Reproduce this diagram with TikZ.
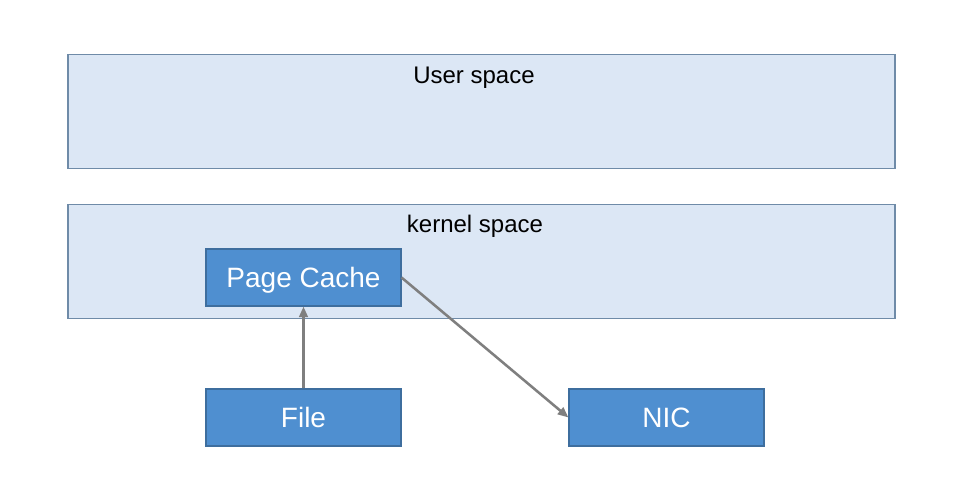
\documentclass[tikz,border=0pt]{standalone}
\usepackage{fontspec}
\setmainfont{Liberation Sans}
\usetikzlibrary{arrows.meta}
\definecolor{layerfill}{HTML}{DCE7F5}
\definecolor{layerline}{HTML}{6F8BA8}
\definecolor{blockfill}{HTML}{4F8FD0}
\definecolor{blockline}{HTML}{3E6E9E}
\definecolor{flow}{HTML}{7F7F7F}
\begin{document}
\begin{tikzpicture}[x=0.75pt,y=-0.75pt,
  layer/.style={draw=layerline,fill=layerfill,line width=0.9pt,
    minimum width=620.25pt,minimum height=85pt,inner sep=0pt},
  block/.style={draw=blockline,fill=blockfill,line width=0.8pt,text=white,
    minimum width=146.25pt,minimum height=42.75pt,inner sep=0pt,
    font=\fontsize{21}{24}\selectfont,text height=15pt,text depth=0pt},
  layerlabel/.style={inner sep=0pt,text=black,font=\fontsize{18}{21}\selectfont,
    text height=12.9pt,text depth=0pt},
  flowarrow/.style={draw=flow,line width=1.9pt,
    -{Triangle[length=8pt,width=6.5pt]}}]
  \useasboundingbox[fill=white] (0,0) rectangle (976,501);
  % address-space layers
  \node[layer] (user) at (481.5,111.5) {};
  \node[layer] (kernel) at (481.5,261.5) {};
  \node[layerlabel] (userlbl) at (474,75) {User space};
  \node[layerlabel] (kernellbl) at (475,224) {kernel space};
  % data blocks
  \node[block] (cache) at (303.5,277.5) {Page Cache};
  \node[block] (file) at (303.5,417.5) {File};
  \node[block] (nic) at (666.5,417.5) {NIC};
  % data flow
  \draw[flowarrow] (file.north) -- (cache.south);
  \draw[flowarrow] (cache.east) -- (nic.west);
\end{tikzpicture}
\end{document}
